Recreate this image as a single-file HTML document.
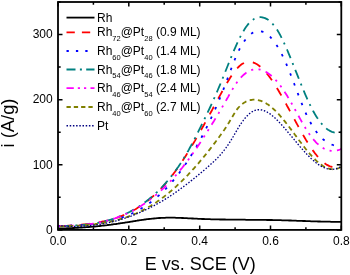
<!DOCTYPE html><html><head><meta charset="utf-8"><style>html,body{margin:0;padding:0;background:#fff;}svg{display:block;will-change:transform;}text{font-family:"Liberation Sans",sans-serif;fill:#000;}</style></head><body>
<svg width="350" height="275" viewBox="0 0 350 275">
<rect width="350" height="275" fill="#fff"/>
<path d="M58.0 228.5L59.0 228.4L60.0 228.4L61.0 228.4L62.0 228.4L63.0 228.4L64.0 228.3L65.0 228.3L66.0 228.3L67.0 228.2L68.0 228.2L69.0 228.2L70.0 228.1L71.0 228.1L72.0 228.1L73.0 228.0L74.0 228.0L75.0 227.9L76.0 227.9L77.0 227.8L78.0 227.8L79.0 227.7L80.0 227.6L81.0 227.6L82.0 227.5L83.0 227.4L84.0 227.4L85.0 227.3L86.0 227.2L87.0 227.1L88.0 227.1L89.0 227.0L90.0 226.9L91.0 226.8L92.0 226.7L93.0 226.6L94.0 226.6L95.0 226.5L96.0 226.4L97.0 226.3L98.0 226.2L99.0 226.1L100.0 226.0L101.0 225.9L102.0 225.7L103.0 225.6L104.0 225.5L105.0 225.4L106.0 225.3L107.0 225.2L108.0 225.0L109.0 224.9L110.0 224.8L111.0 224.7L112.0 224.5L113.0 224.4L114.0 224.2L115.0 224.1L116.0 224.0L117.0 223.8L118.0 223.7L119.0 223.5L120.0 223.4L121.0 223.2L122.0 223.1L123.0 222.9L124.0 222.8L125.0 222.6L126.0 222.4L127.0 222.3L128.0 222.1L129.0 222.0L130.0 221.8L131.0 221.6L132.0 221.5L133.0 221.3L134.0 221.1L135.0 221.0L136.0 220.8L137.0 220.7L138.0 220.5L139.0 220.4L140.0 220.2L141.0 220.1L142.0 219.9L143.0 219.8L144.0 219.6L145.0 219.5L146.0 219.4L147.0 219.2L148.0 219.1L149.0 219.0L150.0 218.9L151.0 218.8L152.0 218.7L153.0 218.6L154.0 218.5L155.0 218.4L156.0 218.3L157.0 218.2L158.0 218.1L159.0 218.0L160.0 218.0L161.0 217.9L162.0 217.9L163.0 217.8L164.0 217.8L165.0 217.8L166.0 217.7L167.0 217.7L168.0 217.7L169.0 217.7L170.0 217.7L171.0 217.7L172.0 217.7L173.0 217.7L174.0 217.7L175.0 217.7L176.0 217.8L177.0 217.8L178.0 217.8L179.0 217.9L180.0 217.9L181.0 217.9L182.0 218.0L183.0 218.0L184.0 218.1L185.0 218.1L186.0 218.2L187.0 218.2L188.0 218.3L189.0 218.3L190.0 218.4L191.0 218.4L192.0 218.5L193.0 218.5L194.0 218.6L195.0 218.6L196.0 218.7L197.0 218.7L198.0 218.8L199.0 218.8L200.0 218.9L201.0 218.9L202.0 219.0L203.0 219.0L204.0 219.0L205.0 219.1L206.0 219.1L207.0 219.1L208.0 219.2L209.0 219.2L210.0 219.2L211.0 219.3L212.0 219.3L213.0 219.3L214.0 219.3L215.0 219.4L216.0 219.4L217.0 219.4L218.0 219.4L219.0 219.4L220.0 219.5L221.0 219.5L222.0 219.5L223.0 219.5L224.0 219.5L225.0 219.5L226.0 219.6L227.0 219.6L228.0 219.6L229.0 219.6L230.0 219.6L231.0 219.6L232.0 219.6L233.0 219.6L234.0 219.7L235.0 219.7L236.0 219.7L237.0 219.7L238.0 219.7L239.0 219.7L240.0 219.7L241.0 219.7L242.0 219.7L243.0 219.7L244.0 219.7L245.0 219.7L246.0 219.8L247.0 219.8L248.0 219.8L249.0 219.8L250.0 219.8L251.0 219.8L252.0 219.8L253.0 219.8L254.0 219.8L255.0 219.8L256.0 219.8L257.0 219.8L258.0 219.8L259.0 219.9L260.0 219.9L261.0 219.9L262.0 219.9L263.0 219.9L264.0 219.9L265.0 219.9L266.0 219.9L267.0 220.0L268.0 220.0L269.0 220.0L270.0 220.0L271.0 220.0L272.0 220.0L273.0 220.1L274.0 220.1L275.0 220.1L276.0 220.1L277.0 220.1L278.0 220.2L279.0 220.2L280.0 220.2L281.0 220.2L282.0 220.3L283.0 220.3L284.0 220.3L285.0 220.3L286.0 220.4L287.0 220.4L288.0 220.4L289.0 220.5L290.0 220.5L291.0 220.5L292.0 220.6L293.0 220.6L294.0 220.6L295.0 220.7L296.0 220.7L297.0 220.8L298.0 220.8L299.0 220.8L300.0 220.9L301.0 220.9L302.0 220.9L303.0 221.0L304.0 221.0L305.0 221.0L306.0 221.1L307.0 221.1L308.0 221.1L309.0 221.2L310.0 221.2L311.0 221.3L312.0 221.3L313.0 221.3L314.0 221.3L315.0 221.4L316.0 221.4L317.0 221.4L318.0 221.5L319.0 221.5L320.0 221.5L321.0 221.6L322.0 221.6L323.0 221.6L324.0 221.6L325.0 221.6L326.0 221.7L327.0 221.7L328.0 221.7L329.0 221.7L330.0 221.7L331.0 221.8L332.0 221.8L333.0 221.8L334.0 221.8L335.0 221.8L336.0 221.8L337.0 221.8L338.0 221.8L339.0 221.8L340.0 221.8L341.0 221.8L341.3 221.8" fill="none" stroke="#000" stroke-width="1.8" stroke-dasharray="none" stroke-dashoffset="0" stroke-linejoin="round"/>
<path d="M58.0 226.5L59.0 226.4L60.0 226.3L61.0 226.2L62.0 226.1L63.0 226.1L64.0 226.0L65.0 225.9L66.0 225.8L67.0 225.8L68.0 225.7L69.0 225.6L70.0 225.6L71.0 225.5L72.0 225.4L73.0 225.3L74.0 225.3L75.0 225.2L76.0 225.1L77.0 225.0L78.0 224.9L79.0 224.9L80.0 224.8L81.0 224.7L82.0 224.6L83.0 224.5L84.0 224.4L85.0 224.3L86.0 224.2L87.0 224.1L88.0 223.9L89.0 223.8L90.0 223.7L91.0 223.6L92.0 223.4L93.0 223.3L94.0 223.1L95.0 223.0L96.0 222.8L97.0 222.7L98.0 222.5L99.0 222.3L100.0 222.1L101.0 221.9L102.0 221.7L103.0 221.5L104.0 221.3L105.0 221.1L106.0 220.9L107.0 220.6L108.0 220.4L109.0 220.1L110.0 219.8L111.0 219.6L112.0 219.3L113.0 219.0L114.0 218.7L115.0 218.4L116.0 218.0L117.0 217.7L118.0 217.3L119.0 217.0L120.0 216.6L121.0 216.2L122.0 215.8L123.0 215.4L124.0 215.0L125.0 214.6L126.0 214.1L127.0 213.6L128.0 213.2L129.0 212.7L130.0 212.2L131.0 211.7L132.0 211.1L133.0 210.6L134.0 210.0L135.0 209.5L136.0 208.9L137.0 208.3L138.0 207.6L139.0 207.0L140.0 206.4L141.0 205.7L142.0 205.0L143.0 204.3L144.0 203.6L145.0 202.9L146.0 202.1L147.0 201.3L148.0 200.5L149.0 199.7L150.0 198.9L151.0 198.1L152.0 197.2L153.0 196.3L154.0 195.4L155.0 194.5L156.0 193.6L157.0 192.6L158.0 191.6L159.0 190.6L160.0 189.6L161.0 188.6L162.0 187.5L163.0 186.4L164.0 185.3L165.0 184.2L166.0 183.0L167.0 181.9L168.0 180.7L169.0 179.4L170.0 178.2L171.0 176.9L172.0 175.7L173.0 174.4L174.0 173.0L175.0 171.7L176.0 170.3L177.0 168.9L178.0 167.5L179.0 166.0L180.0 164.6L181.0 163.1L182.0 161.6L183.0 160.1L184.0 158.5L185.0 157.0L186.0 155.4L187.0 153.8L188.0 152.2L189.0 150.6L190.0 148.9L191.0 147.3L192.0 145.6L193.0 143.9L194.0 142.3L195.0 140.6L196.0 138.8L197.0 137.1L198.0 135.4L199.0 133.6L200.0 131.9L201.0 130.1L202.0 128.3L203.0 126.5L204.0 124.7L205.0 122.9L206.0 121.1L207.0 119.3L208.0 117.5L209.0 115.7L210.0 113.8L211.0 112.0L212.0 110.2L213.0 108.3L214.0 106.5L215.0 104.7L216.0 102.8L217.0 101.0L218.0 99.1L219.0 97.3L220.0 95.4L221.0 93.6L222.0 91.8L223.0 90.0L224.0 88.2L225.0 86.4L226.0 84.7L227.0 83.0L228.0 81.3L229.0 79.7L230.0 78.1L231.0 76.5L232.0 75.1L233.0 73.6L234.0 72.3L235.0 71.0L236.0 69.8L237.0 68.6L238.0 67.5L239.0 66.5L240.0 65.6L241.0 64.8L242.0 64.1L243.0 63.5L244.0 62.9L245.0 62.5L246.0 62.2L247.0 62.0L248.0 61.8L249.0 61.8L250.0 61.8L251.0 61.9L252.0 62.1L253.0 62.4L254.0 62.8L255.0 63.2L256.0 63.7L257.0 64.3L258.0 64.9L259.0 65.7L260.0 66.5L261.0 67.3L262.0 68.2L263.0 69.2L264.0 70.3L265.0 71.4L266.0 72.5L267.0 73.7L268.0 75.0L269.0 76.3L270.0 77.6L271.0 79.0L272.0 80.4L273.0 81.9L274.0 83.4L275.0 85.0L276.0 86.6L277.0 88.2L278.0 89.8L279.0 91.5L280.0 93.2L281.0 94.9L282.0 96.7L283.0 98.4L284.0 100.2L285.0 102.0L286.0 103.8L287.0 105.7L288.0 107.5L289.0 109.3L290.0 111.2L291.0 113.0L292.0 114.9L293.0 116.7L294.0 118.6L295.0 120.4L296.0 122.3L297.0 124.1L298.0 125.9L299.0 127.7L300.0 129.5L301.0 131.3L302.0 133.1L303.0 134.8L304.0 136.5L305.0 138.2L306.0 139.9L307.0 141.5L308.0 143.1L309.0 144.7L310.0 146.2L311.0 147.7L312.0 149.1L313.0 150.6L314.0 151.9L315.0 153.3L316.0 154.5L317.0 155.8L318.0 156.9L319.0 158.1L320.0 159.1L321.0 160.1L322.0 161.1L323.0 162.0L324.0 162.8L325.0 163.6L326.0 164.3L327.0 164.9L328.0 165.4L329.0 165.9L330.0 166.3L331.0 166.6L332.0 166.9L333.0 167.0L334.0 167.1L335.0 167.1L336.0 167.0L337.0 166.8L338.0 166.6L339.0 166.2L340.0 165.7L341.0 165.1L341.3 164.9" fill="none" stroke="#f00" stroke-width="1.8" stroke-dasharray="8.8 9.1" stroke-dashoffset="12.7" stroke-linejoin="round"/>
<path d="M58.0 226.4L59.0 226.3L60.0 226.2L61.0 226.2L62.0 226.1L63.0 226.0L64.0 226.0L65.0 225.9L66.0 225.9L67.0 225.8L68.0 225.8L69.0 225.7L70.0 225.7L71.0 225.6L72.0 225.5L73.0 225.5L74.0 225.4L75.0 225.4L76.0 225.3L77.0 225.2L78.0 225.2L79.0 225.1L80.0 225.0L81.0 225.0L82.0 224.9L83.0 224.8L84.0 224.8L85.0 224.7L86.0 224.6L87.0 224.5L88.0 224.4L89.0 224.3L90.0 224.2L91.0 224.1L92.0 224.0L93.0 223.9L94.0 223.8L95.0 223.7L96.0 223.5L97.0 223.4L98.0 223.2L99.0 223.1L100.0 222.9L101.0 222.8L102.0 222.6L103.0 222.5L104.0 222.3L105.0 222.1L106.0 221.9L107.0 221.7L108.0 221.5L109.0 221.3L110.0 221.0L111.0 220.8L112.0 220.6L113.0 220.3L114.0 220.0L115.0 219.8L116.0 219.5L117.0 219.2L118.0 218.9L119.0 218.6L120.0 218.3L121.0 217.9L122.0 217.6L123.0 217.2L124.0 216.9L125.0 216.5L126.0 216.1L127.0 215.7L128.0 215.3L129.0 214.9L130.0 214.4L131.0 214.0L132.0 213.5L133.0 213.0L134.0 212.5L135.0 212.0L136.0 211.5L137.0 211.0L138.0 210.5L139.0 209.9L140.0 209.3L141.0 208.7L142.0 208.1L143.0 207.5L144.0 206.9L145.0 206.2L146.0 205.6L147.0 204.9L148.0 204.2L149.0 203.5L150.0 202.7L151.0 202.0L152.0 201.2L153.0 200.4L154.0 199.6L155.0 198.8L156.0 198.0L157.0 197.1L158.0 196.2L159.0 195.3L160.0 194.4L161.0 193.5L162.0 192.6L163.0 191.6L164.0 190.6L165.0 189.6L166.0 188.6L167.0 187.5L168.0 186.4L169.0 185.4L170.0 184.2L171.0 183.1L172.0 182.0L173.0 180.8L174.0 179.6L175.0 178.4L176.0 177.1L177.0 175.9L178.0 174.6L179.0 173.3L180.0 171.9L181.0 170.6L182.0 169.2L183.0 167.8L184.0 166.4L185.0 164.9L186.0 163.5L187.0 162.0L188.0 160.4L189.0 158.9L190.0 157.3L191.0 155.7L192.0 154.1L193.0 152.5L194.0 150.8L195.0 149.1L196.0 147.4L197.0 145.6L198.0 143.8L199.0 142.0L200.0 140.2L201.0 138.4L202.0 136.5L203.0 134.6L204.0 132.6L205.0 130.7L206.0 128.7L207.0 126.7L208.0 124.6L209.0 122.6L210.0 120.5L211.0 118.3L212.0 116.2L213.0 114.0L214.0 111.8L215.0 109.5L216.0 107.3L217.0 105.0L218.0 102.6L219.0 100.3L220.0 97.9L221.0 95.4L222.0 93.0L223.0 90.5L224.0 87.9L225.0 85.4L226.0 82.8L227.0 80.1L228.0 77.4L229.0 74.7L230.0 72.0L231.0 69.3L232.0 66.6L233.0 64.0L234.0 61.4L235.0 59.0L236.0 56.6L237.0 54.4L238.0 52.2L239.0 50.2L240.0 48.2L241.0 46.4L242.0 44.7L243.0 43.1L244.0 41.6L245.0 40.2L246.0 38.9L247.0 37.7L248.0 36.6L249.0 35.6L250.0 34.7L251.0 33.9L252.0 33.2L253.0 32.6L254.0 32.1L255.0 31.7L256.0 31.4L257.0 31.2L258.0 31.1L259.0 31.0L260.0 31.1L261.0 31.3L262.0 31.5L263.0 31.9L264.0 32.3L265.0 32.8L266.0 33.4L267.0 34.1L268.0 34.9L269.0 35.8L270.0 36.7L271.0 37.8L272.0 38.9L273.0 40.1L274.0 41.4L275.0 42.8L276.0 44.3L277.0 45.8L278.0 47.4L279.0 49.1L280.0 50.9L281.0 52.8L282.0 54.7L283.0 56.7L284.0 58.8L285.0 61.0L286.0 63.2L287.0 65.6L288.0 67.9L289.0 70.4L290.0 72.9L291.0 75.5L292.0 78.0L293.0 80.7L294.0 83.3L295.0 86.0L296.0 88.6L297.0 91.3L298.0 93.9L299.0 96.5L300.0 99.1L301.0 101.7L302.0 104.2L303.0 106.7L304.0 109.1L305.0 111.4L306.0 113.6L307.0 115.8L308.0 117.8L309.0 119.8L310.0 121.7L311.0 123.5L312.0 125.2L313.0 126.9L314.0 128.4L315.0 129.9L316.0 131.3L317.0 132.7L318.0 133.9L319.0 135.1L320.0 136.2L321.0 137.3L322.0 138.3L323.0 139.2L324.0 140.0L325.0 140.8L326.0 141.5L327.0 142.2L328.0 142.8L329.0 143.4L330.0 143.9L331.0 144.3L332.0 144.7L333.0 145.0L334.0 145.3L335.0 145.6L336.0 145.8L337.0 145.9L338.0 146.0L339.0 146.1L340.0 146.2L341.0 146.1L341.3 146.1" fill="none" stroke="#00f" stroke-width="1.8" stroke-dasharray="2.5 8.04" stroke-dashoffset="9.5" stroke-linejoin="round"/>
<path d="M58.0 226.1L59.0 226.1L60.0 226.1L61.0 226.1L62.0 226.0L63.0 226.0L64.0 226.0L65.0 226.0L66.0 225.9L67.0 225.9L68.0 225.9L69.0 225.8L70.0 225.8L71.0 225.8L72.0 225.7L73.0 225.7L74.0 225.6L75.0 225.6L76.0 225.5L77.0 225.4L78.0 225.4L79.0 225.3L80.0 225.2L81.0 225.1L82.0 225.0L83.0 224.9L84.0 224.8L85.0 224.7L86.0 224.6L87.0 224.5L88.0 224.4L89.0 224.2L90.0 224.1L91.0 224.0L92.0 223.8L93.0 223.7L94.0 223.5L95.0 223.3L96.0 223.2L97.0 223.0L98.0 222.8L99.0 222.6L100.0 222.4L101.0 222.2L102.0 221.9L103.0 221.7L104.0 221.5L105.0 221.2L106.0 220.9L107.0 220.7L108.0 220.4L109.0 220.1L110.0 219.8L111.0 219.5L112.0 219.2L113.0 218.9L114.0 218.5L115.0 218.2L116.0 217.8L117.0 217.5L118.0 217.1L119.0 216.7L120.0 216.3L121.0 215.9L122.0 215.5L123.0 215.0L124.0 214.6L125.0 214.1L126.0 213.7L127.0 213.2L128.0 212.7L129.0 212.2L130.0 211.7L131.0 211.1L132.0 210.6L133.0 210.0L134.0 209.4L135.0 208.9L136.0 208.3L137.0 207.7L138.0 207.0L139.0 206.4L140.0 205.7L141.0 205.1L142.0 204.4L143.0 203.7L144.0 203.0L145.0 202.2L146.0 201.5L147.0 200.7L148.0 199.9L149.0 199.1L150.0 198.3L151.0 197.5L152.0 196.6L153.0 195.8L154.0 194.9L155.0 194.0L156.0 193.0L157.0 192.1L158.0 191.1L159.0 190.1L160.0 189.1L161.0 188.1L162.0 187.1L163.0 186.0L164.0 184.9L165.0 183.8L166.0 182.7L167.0 181.5L168.0 180.3L169.0 179.1L170.0 177.9L171.0 176.6L172.0 175.4L173.0 174.1L174.0 172.7L175.0 171.4L176.0 170.0L177.0 168.6L178.0 167.2L179.0 165.7L180.0 164.3L181.0 162.7L182.0 161.2L183.0 159.6L184.0 158.0L185.0 156.3L186.0 154.6L187.0 152.9L188.0 151.2L189.0 149.4L190.0 147.5L191.0 145.7L192.0 143.8L193.0 141.9L194.0 140.0L195.0 138.1L196.0 136.1L197.0 134.2L198.0 132.2L199.0 130.2L200.0 128.2L201.0 126.2L202.0 124.1L203.0 122.1L204.0 120.1L205.0 118.0L206.0 115.9L207.0 113.8L208.0 111.7L209.0 109.6L210.0 107.5L211.0 105.3L212.0 103.2L213.0 101.0L214.0 98.7L215.0 96.5L216.0 94.2L217.0 91.9L218.0 89.5L219.0 87.2L220.0 84.8L221.0 82.4L222.0 79.9L223.0 77.5L224.0 75.0L225.0 72.5L226.0 70.0L227.0 67.5L228.0 65.0L229.0 62.5L230.0 60.1L231.0 57.6L232.0 55.2L233.0 52.8L234.0 50.4L235.0 48.1L236.0 45.8L237.0 43.6L238.0 41.5L239.0 39.4L240.0 37.4L241.0 35.5L242.0 33.6L243.0 31.8L244.0 30.2L245.0 28.6L246.0 27.1L247.0 25.7L248.0 24.4L249.0 23.2L250.0 22.2L251.0 21.2L252.0 20.4L253.0 19.7L254.0 19.0L255.0 18.5L256.0 18.0L257.0 17.7L258.0 17.5L259.0 17.3L260.0 17.2L261.0 17.2L262.0 17.3L263.0 17.5L264.0 17.8L265.0 18.1L266.0 18.6L267.0 19.1L268.0 19.7L269.0 20.5L270.0 21.3L271.0 22.2L272.0 23.2L273.0 24.3L274.0 25.5L275.0 26.7L276.0 28.1L277.0 29.6L278.0 31.2L279.0 32.9L280.0 34.7L281.0 36.6L282.0 38.6L283.0 40.6L284.0 42.8L285.0 45.0L286.0 47.2L287.0 49.5L288.0 51.9L289.0 54.3L290.0 56.7L291.0 59.2L292.0 61.6L293.0 64.1L294.0 66.6L295.0 69.2L296.0 71.7L297.0 74.2L298.0 76.7L299.0 79.2L300.0 81.7L301.0 84.2L302.0 86.6L303.0 89.0L304.0 91.4L305.0 93.8L306.0 96.1L307.0 98.4L308.0 100.6L309.0 102.7L310.0 104.8L311.0 106.9L312.0 108.8L313.0 110.7L314.0 112.5L315.0 114.3L316.0 115.9L317.0 117.5L318.0 119.0L319.0 120.4L320.0 121.7L321.0 123.0L322.0 124.2L323.0 125.3L324.0 126.3L325.0 127.3L326.0 128.2L327.0 129.0L328.0 129.7L329.0 130.3L330.0 130.9L331.0 131.4L332.0 131.8L333.0 132.1L334.0 132.4L335.0 132.6L336.0 132.7L337.0 132.7L338.0 132.7L339.0 132.6L340.0 132.4L341.0 132.1L341.3 132.0" fill="none" stroke="#008080" stroke-width="1.8" stroke-dasharray="9.6 5.25 2 5.38" stroke-dashoffset="19.74" stroke-linejoin="round"/>
<path d="M58.0 225.9L59.0 225.9L60.0 225.9L61.0 225.9L62.0 225.9L63.0 225.9L64.0 225.9L65.0 225.9L66.0 225.9L67.0 225.8L68.0 225.8L69.0 225.8L70.0 225.7L71.0 225.7L72.0 225.7L73.0 225.6L74.0 225.6L75.0 225.5L76.0 225.5L77.0 225.4L78.0 225.3L79.0 225.3L80.0 225.2L81.0 225.1L82.0 225.0L83.0 224.9L84.0 224.8L85.0 224.7L86.0 224.6L87.0 224.5L88.0 224.3L89.0 224.2L90.0 224.1L91.0 223.9L92.0 223.8L93.0 223.6L94.0 223.5L95.0 223.3L96.0 223.1L97.0 222.9L98.0 222.7L99.0 222.5L100.0 222.3L101.0 222.1L102.0 221.9L103.0 221.7L104.0 221.4L105.0 221.2L106.0 220.9L107.0 220.7L108.0 220.4L109.0 220.1L110.0 219.8L111.0 219.5L112.0 219.2L113.0 218.9L114.0 218.6L115.0 218.3L116.0 217.9L117.0 217.6L118.0 217.2L119.0 216.8L120.0 216.4L121.0 216.0L122.0 215.6L123.0 215.2L124.0 214.8L125.0 214.4L126.0 213.9L127.0 213.5L128.0 213.0L129.0 212.5L130.0 212.0L131.0 211.5L132.0 211.0L133.0 210.5L134.0 209.9L135.0 209.4L136.0 208.8L137.0 208.3L138.0 207.7L139.0 207.1L140.0 206.5L141.0 205.9L142.0 205.2L143.0 204.6L144.0 203.9L145.0 203.2L146.0 202.5L147.0 201.8L148.0 201.1L149.0 200.4L150.0 199.7L151.0 198.9L152.0 198.1L153.0 197.4L154.0 196.6L155.0 195.8L156.0 194.9L157.0 194.1L158.0 193.2L159.0 192.4L160.0 191.5L161.0 190.6L162.0 189.7L163.0 188.7L164.0 187.8L165.0 186.8L166.0 185.8L167.0 184.9L168.0 183.8L169.0 182.8L170.0 181.8L171.0 180.7L172.0 179.6L173.0 178.6L174.0 177.4L175.0 176.3L176.0 175.2L177.0 174.0L178.0 172.8L179.0 171.7L180.0 170.4L181.0 169.2L182.0 168.0L183.0 166.7L184.0 165.4L185.0 164.1L186.0 162.8L187.0 161.5L188.0 160.2L189.0 158.8L190.0 157.4L191.0 156.0L192.0 154.6L193.0 153.2L194.0 151.8L195.0 150.3L196.0 148.9L197.0 147.4L198.0 145.9L199.0 144.4L200.0 142.9L201.0 141.4L202.0 139.9L203.0 138.4L204.0 136.8L205.0 135.3L206.0 133.7L207.0 132.1L208.0 130.5L209.0 129.0L210.0 127.4L211.0 125.8L212.0 124.1L213.0 122.5L214.0 120.9L215.0 119.2L216.0 117.6L217.0 116.0L218.0 114.3L219.0 112.6L220.0 110.9L221.0 109.2L222.0 107.5L223.0 105.8L224.0 104.1L225.0 102.4L226.0 100.6L227.0 98.8L228.0 97.1L229.0 95.3L230.0 93.5L231.0 91.8L232.0 90.1L233.0 88.4L234.0 86.8L235.0 85.2L236.0 83.7L237.0 82.3L238.0 81.0L239.0 79.7L240.0 78.5L241.0 77.4L242.0 76.4L243.0 75.4L244.0 74.5L245.0 73.7L246.0 72.9L247.0 72.2L248.0 71.6L249.0 71.1L250.0 70.6L251.0 70.2L252.0 69.9L253.0 69.6L254.0 69.4L255.0 69.3L256.0 69.2L257.0 69.2L258.0 69.3L259.0 69.4L260.0 69.6L261.0 69.8L262.0 70.1L263.0 70.5L264.0 70.9L265.0 71.4L266.0 71.9L267.0 72.5L268.0 73.2L269.0 73.9L270.0 74.7L271.0 75.5L272.0 76.4L273.0 77.3L274.0 78.3L275.0 79.3L276.0 80.4L277.0 81.5L278.0 82.7L279.0 84.0L280.0 85.2L281.0 86.6L282.0 88.0L283.0 89.4L284.0 90.8L285.0 92.4L286.0 93.9L287.0 95.5L288.0 97.2L289.0 98.8L290.0 100.6L291.0 102.3L292.0 104.1L293.0 105.9L294.0 107.7L295.0 109.5L296.0 111.3L297.0 113.2L298.0 115.0L299.0 116.8L300.0 118.6L301.0 120.4L302.0 122.2L303.0 123.9L304.0 125.6L305.0 127.3L306.0 129.0L307.0 130.5L308.0 132.1L309.0 133.6L310.0 135.0L311.0 136.4L312.0 137.7L313.0 138.9L314.0 140.1L315.0 141.2L316.0 142.3L317.0 143.3L318.0 144.2L319.0 145.1L320.0 145.9L321.0 146.7L322.0 147.4L323.0 148.0L324.0 148.6L325.0 149.1L326.0 149.5L327.0 149.9L328.0 150.3L329.0 150.5L330.0 150.7L331.0 150.9L332.0 151.0L333.0 151.0L334.0 151.0L335.0 150.9L336.0 150.7L337.0 150.5L338.0 150.2L339.0 149.9L340.0 149.5L341.0 149.0L341.3 148.8" fill="none" stroke="#f0f" stroke-width="1.8" stroke-dasharray="7.5 5.4 2.1 5.3 2.1 5.4" stroke-dashoffset="27.2" stroke-linejoin="round"/>
<path d="M58.0 226.4L59.0 226.3L60.0 226.3L61.0 226.3L62.0 226.3L63.0 226.2L64.0 226.2L65.0 226.2L66.0 226.1L67.0 226.1L68.0 226.1L69.0 226.0L70.0 226.0L71.0 226.0L72.0 225.9L73.0 225.9L74.0 225.8L75.0 225.8L76.0 225.7L77.0 225.7L78.0 225.6L79.0 225.6L80.0 225.5L81.0 225.4L82.0 225.4L83.0 225.3L84.0 225.2L85.0 225.2L86.0 225.1L87.0 225.0L88.0 224.9L89.0 224.8L90.0 224.7L91.0 224.6L92.0 224.5L93.0 224.4L94.0 224.3L95.0 224.2L96.0 224.0L97.0 223.9L98.0 223.8L99.0 223.6L100.0 223.5L101.0 223.3L102.0 223.2L103.0 223.0L104.0 222.9L105.0 222.7L106.0 222.5L107.0 222.3L108.0 222.1L109.0 221.9L110.0 221.7L111.0 221.5L112.0 221.3L113.0 221.1L114.0 220.8L115.0 220.6L116.0 220.3L117.0 220.1L118.0 219.8L119.0 219.5L120.0 219.2L121.0 218.9L122.0 218.6L123.0 218.3L124.0 218.0L125.0 217.7L126.0 217.4L127.0 217.0L128.0 216.7L129.0 216.3L130.0 215.9L131.0 215.5L132.0 215.1L133.0 214.7L134.0 214.3L135.0 213.9L136.0 213.5L137.0 213.0L138.0 212.6L139.0 212.1L140.0 211.6L141.0 211.2L142.0 210.7L143.0 210.1L144.0 209.6L145.0 209.1L146.0 208.5L147.0 208.0L148.0 207.4L149.0 206.8L150.0 206.3L151.0 205.7L152.0 205.0L153.0 204.4L154.0 203.8L155.0 203.1L156.0 202.4L157.0 201.8L158.0 201.1L159.0 200.4L160.0 199.7L161.0 198.9L162.0 198.2L163.0 197.4L164.0 196.7L165.0 195.9L166.0 195.1L167.0 194.3L168.0 193.5L169.0 192.7L170.0 191.8L171.0 191.0L172.0 190.1L173.0 189.2L174.0 188.4L175.0 187.5L176.0 186.6L177.0 185.6L178.0 184.7L179.0 183.8L180.0 182.8L181.0 181.9L182.0 180.9L183.0 179.9L184.0 178.9L185.0 177.9L186.0 176.9L187.0 175.8L188.0 174.8L189.0 173.7L190.0 172.7L191.0 171.6L192.0 170.5L193.0 169.4L194.0 168.3L195.0 167.2L196.0 166.1L197.0 164.9L198.0 163.8L199.0 162.6L200.0 161.4L201.0 160.2L202.0 159.1L203.0 157.8L204.0 156.6L205.0 155.4L206.0 154.2L207.0 152.9L208.0 151.7L209.0 150.4L210.0 149.1L211.0 147.8L212.0 146.6L213.0 145.2L214.0 143.9L215.0 142.6L216.0 141.3L217.0 139.9L218.0 138.6L219.0 137.2L220.0 135.8L221.0 134.4L222.0 133.0L223.0 131.6L224.0 130.2L225.0 128.7L226.0 127.2L227.0 125.6L228.0 124.1L229.0 122.5L230.0 120.8L231.0 119.2L232.0 117.4L233.0 115.7L234.0 114.0L235.0 112.4L236.0 110.8L237.0 109.4L238.0 108.1L239.0 107.0L240.0 105.9L241.0 105.0L242.0 104.2L243.0 103.4L244.0 102.8L245.0 102.2L246.0 101.6L247.0 101.2L248.0 100.8L249.0 100.4L250.0 100.2L251.0 100.0L252.0 99.8L253.0 99.7L254.0 99.7L255.0 99.7L256.0 99.8L257.0 99.9L258.0 100.1L259.0 100.3L260.0 100.6L261.0 100.9L262.0 101.3L263.0 101.8L264.0 102.2L265.0 102.8L266.0 103.3L267.0 104.0L268.0 104.6L269.0 105.3L270.0 106.1L271.0 106.9L272.0 107.7L273.0 108.6L274.0 109.5L275.0 110.4L276.0 111.4L277.0 112.4L278.0 113.5L279.0 114.5L280.0 115.7L281.0 116.8L282.0 118.0L283.0 119.2L284.0 120.4L285.0 121.6L286.0 122.9L287.0 124.1L288.0 125.4L289.0 126.7L290.0 128.1L291.0 129.4L292.0 130.7L293.0 132.1L294.0 133.4L295.0 134.8L296.0 136.1L297.0 137.5L298.0 138.8L299.0 140.2L300.0 141.5L301.0 142.8L302.0 144.1L303.0 145.4L304.0 146.7L305.0 148.0L306.0 149.3L307.0 150.5L308.0 151.7L309.0 152.9L310.0 154.1L311.0 155.2L312.0 156.3L313.0 157.4L314.0 158.4L315.0 159.4L316.0 160.4L317.0 161.3L318.0 162.2L319.0 163.0L320.0 163.8L321.0 164.6L322.0 165.3L323.0 166.0L324.0 166.6L325.0 167.1L326.0 167.6L327.0 168.0L328.0 168.4L329.0 168.7L330.0 169.0L331.0 169.1L332.0 169.2L333.0 169.3L334.0 169.3L335.0 169.2L336.0 169.0L337.0 168.7L338.0 168.4L339.0 168.0L340.0 167.5L341.0 166.9L341.3 166.7" fill="none" stroke="#808000" stroke-width="1.8" stroke-dasharray="4.8 3.5" stroke-dashoffset="6.2" stroke-linejoin="round"/>
<path d="M58.0 225.5L59.0 225.6L60.0 225.7L61.0 225.8L62.0 225.9L63.0 226.0L64.0 226.0L65.0 226.1L66.0 226.1L67.0 226.2L68.0 226.2L69.0 226.3L70.0 226.3L71.0 226.3L72.0 226.3L73.0 226.3L74.0 226.3L75.0 226.3L76.0 226.3L77.0 226.3L78.0 226.3L79.0 226.3L80.0 226.2L81.0 226.2L82.0 226.2L83.0 226.1L84.0 226.1L85.0 226.0L86.0 225.9L87.0 225.9L88.0 225.8L89.0 225.7L90.0 225.6L91.0 225.5L92.0 225.4L93.0 225.3L94.0 225.1L95.0 225.0L96.0 224.9L97.0 224.7L98.0 224.6L99.0 224.4L100.0 224.3L101.0 224.1L102.0 224.0L103.0 223.8L104.0 223.6L105.0 223.4L106.0 223.2L107.0 223.0L108.0 222.8L109.0 222.6L110.0 222.3L111.0 222.1L112.0 221.9L113.0 221.6L114.0 221.4L115.0 221.1L116.0 220.9L117.0 220.6L118.0 220.3L119.0 220.0L120.0 219.7L121.0 219.4L122.0 219.1L123.0 218.8L124.0 218.5L125.0 218.2L126.0 217.8L127.0 217.5L128.0 217.1L129.0 216.8L130.0 216.4L131.0 216.1L132.0 215.7L133.0 215.3L134.0 214.9L135.0 214.5L136.0 214.1L137.0 213.7L138.0 213.3L139.0 212.9L140.0 212.4L141.0 212.0L142.0 211.6L143.0 211.1L144.0 210.7L145.0 210.2L146.0 209.7L147.0 209.2L148.0 208.7L149.0 208.3L150.0 207.8L151.0 207.2L152.0 206.7L153.0 206.2L154.0 205.7L155.0 205.1L156.0 204.6L157.0 204.0L158.0 203.5L159.0 202.9L160.0 202.3L161.0 201.7L162.0 201.2L163.0 200.6L164.0 200.0L165.0 199.3L166.0 198.7L167.0 198.1L168.0 197.5L169.0 196.8L170.0 196.2L171.0 195.5L172.0 194.9L173.0 194.2L174.0 193.5L175.0 192.8L176.0 192.1L177.0 191.4L178.0 190.7L179.0 190.0L180.0 189.3L181.0 188.5L182.0 187.8L183.0 187.1L184.0 186.3L185.0 185.5L186.0 184.8L187.0 184.0L188.0 183.2L189.0 182.5L190.0 181.7L191.0 180.9L192.0 180.1L193.0 179.3L194.0 178.5L195.0 177.7L196.0 176.9L197.0 176.0L198.0 175.2L199.0 174.4L200.0 173.5L201.0 172.7L202.0 171.9L203.0 171.0L204.0 170.2L205.0 169.3L206.0 168.5L207.0 167.6L208.0 166.7L209.0 165.9L210.0 165.0L211.0 164.1L212.0 163.2L213.0 162.3L214.0 161.3L215.0 160.4L216.0 159.4L217.0 158.4L218.0 157.4L219.0 156.3L220.0 155.2L221.0 154.1L222.0 152.9L223.0 151.7L224.0 150.4L225.0 149.2L226.0 147.8L227.0 146.4L228.0 145.0L229.0 143.5L230.0 141.9L231.0 140.3L232.0 138.7L233.0 137.0L234.0 135.3L235.0 133.5L236.0 131.8L237.0 130.1L238.0 128.4L239.0 126.7L240.0 125.1L241.0 123.6L242.0 122.2L243.0 120.8L244.0 119.5L245.0 118.2L246.0 117.1L247.0 116.0L248.0 115.0L249.0 114.0L250.0 113.2L251.0 112.5L252.0 111.8L253.0 111.2L254.0 110.8L255.0 110.4L256.0 110.1L257.0 109.9L258.0 109.7L259.0 109.7L260.0 109.7L261.0 109.9L262.0 110.0L263.0 110.3L264.0 110.6L265.0 111.0L266.0 111.5L267.0 112.0L268.0 112.6L269.0 113.2L270.0 113.9L271.0 114.6L272.0 115.4L273.0 116.3L274.0 117.1L275.0 118.0L276.0 119.0L277.0 120.0L278.0 121.0L279.0 122.0L280.0 123.1L281.0 124.2L282.0 125.3L283.0 126.4L284.0 127.5L285.0 128.7L286.0 129.8L287.0 131.0L288.0 132.2L289.0 133.4L290.0 134.6L291.0 135.8L292.0 137.0L293.0 138.2L294.0 139.4L295.0 140.6L296.0 141.8L297.0 143.0L298.0 144.2L299.0 145.4L300.0 146.6L301.0 147.7L302.0 148.9L303.0 150.0L304.0 151.1L305.0 152.2L306.0 153.3L307.0 154.4L308.0 155.4L309.0 156.4L310.0 157.4L311.0 158.4L312.0 159.3L313.0 160.2L314.0 161.0L315.0 161.9L316.0 162.7L317.0 163.4L318.0 164.2L319.0 164.9L320.0 165.5L321.0 166.1L322.0 166.6L323.0 167.2L324.0 167.6L325.0 168.0L326.0 168.4L327.0 168.7L328.0 168.9L329.0 169.1L330.0 169.3L331.0 169.4L332.0 169.4L333.0 169.3L334.0 169.2L335.0 169.1L336.0 168.8L337.0 168.5L338.0 168.2L339.0 167.7L340.0 167.2L341.0 166.6L341.3 166.4" fill="none" stroke="#000080" stroke-width="1.35" stroke-dasharray="1.5 1.7" stroke-dashoffset="0" stroke-linejoin="round"/>
<rect x="58" y="2.0" width="283.3" height="227.9" fill="none" stroke="#000" stroke-width="1.8"/>
<path d="M58.0 229.9V225.4M58.0 2.0V6.5M93.4 229.9V227.20000000000002M93.4 2.0V4.7M128.8 229.9V225.4M128.8 2.0V6.5M164.2 229.9V227.20000000000002M164.2 2.0V4.7M199.7 229.9V225.4M199.7 2.0V6.5M235.1 229.9V227.20000000000002M235.1 2.0V4.7M270.5 229.9V225.4M270.5 2.0V6.5M305.9 229.9V227.20000000000002M305.9 2.0V4.7M341.3 229.9V225.4M341.3 2.0V6.5M58 229.9H62.5M341.3 229.9H336.8M58 197.3H60.7M341.3 197.3H338.6M58 164.8H62.5M341.3 164.8H336.8M58 132.2H60.7M341.3 132.2H338.6M58 99.7H62.5M341.3 99.7H336.8M58 67.1H60.7M341.3 67.1H338.6M58 34.6H62.5M341.3 34.6H336.8M58 2.0H60.7M341.3 2.0H338.6" stroke="#000" stroke-width="1.5" fill="none"/>
<text x="52.7" y="233.6" font-size="12" text-anchor="end">0</text>
<text x="52.7" y="168.5" font-size="12" text-anchor="end">100</text>
<text x="52.7" y="103.4" font-size="12" text-anchor="end">200</text>
<text x="52.7" y="38.3" font-size="12" text-anchor="end">300</text>
<text x="58.0" y="244.6" font-size="12" text-anchor="middle">0.0</text>
<text x="128.8" y="244.6" font-size="12" text-anchor="middle">0.2</text>
<text x="199.7" y="244.6" font-size="12" text-anchor="middle">0.4</text>
<text x="270.5" y="244.6" font-size="12" text-anchor="middle">0.6</text>
<text x="341.3" y="244.6" font-size="12" text-anchor="middle">0.8</text>
<text x="200.3" y="270" font-size="18" text-anchor="middle">E vs. SCE (V)</text>
<text transform="translate(14 123) rotate(-90)" x="0" y="0" font-size="18.3" text-anchor="middle">i (A/g)</text>
<path d="M66.5 17.6H94.5" stroke="#000" stroke-width="1.8" stroke-dasharray="none" fill="none"/>
<text x="97" y="21.6" font-size="12" xml:space="preserve"><tspan>Rh</tspan></text>
<path d="M66.5 32.4H94.5" stroke="#f00" stroke-width="1.8" stroke-dasharray="8.3 7.1" fill="none"/>
<text x="97" y="36.4" font-size="12" xml:space="preserve"><tspan>Rh</tspan><tspan font-size="7.5" dy="4.7">72</tspan><tspan dy="-4.7">@Pt</tspan><tspan font-size="7.5" dy="4.7">28</tspan><tspan dy="-4.7"> (0.9 ML)</tspan></text>
<path d="M66.5 51.0H94.5" stroke="#00f" stroke-width="1.8" stroke-dasharray="2.3 7.1" fill="none"/>
<text x="97" y="55.0" font-size="12" xml:space="preserve"><tspan>Rh</tspan><tspan font-size="7.5" dy="4.7">60</tspan><tspan dy="-4.7">@Pt</tspan><tspan font-size="7.5" dy="4.7">40</tspan><tspan dy="-4.7"> (1.4 ML)</tspan></text>
<path d="M66.5 69.5H94.5" stroke="#008080" stroke-width="1.8" stroke-dasharray="9 4.4 2 4.3" fill="none"/>
<text x="97" y="73.5" font-size="12" xml:space="preserve"><tspan>Rh</tspan><tspan font-size="7.5" dy="4.7">54</tspan><tspan dy="-4.7">@Pt</tspan><tspan font-size="7.5" dy="4.7">46</tspan><tspan dy="-4.7"> (1.8 ML)</tspan></text>
<path d="M66.5 88.1H94.5" stroke="#f0f" stroke-width="1.8" stroke-dasharray="7.3 4 2.2 4 2.2 4.3" fill="none"/>
<text x="97" y="92.1" font-size="12" xml:space="preserve"><tspan>Rh</tspan><tspan font-size="7.5" dy="4.7">46</tspan><tspan dy="-4.7">@Pt</tspan><tspan font-size="7.5" dy="4.7">54</tspan><tspan dy="-4.7"> (2.4 ML)</tspan></text>
<path d="M66.5 107.0H94.5" stroke="#808000" stroke-width="1.8" stroke-dasharray="4.3 3" fill="none"/>
<text x="97" y="111.0" font-size="12" xml:space="preserve"><tspan>Rh</tspan><tspan font-size="7.5" dy="4.7">40</tspan><tspan dy="-4.7">@Pt</tspan><tspan font-size="7.5" dy="4.7">60</tspan><tspan dy="-4.7"> (2.7 ML)</tspan></text>
<path d="M66.5 125.7H94.5" stroke="#000080" stroke-width="1.35" stroke-dasharray="1.5 1.7" fill="none"/>
<text x="97" y="129.7" font-size="12" xml:space="preserve"><tspan>Pt</tspan></text>
</svg></body></html>
